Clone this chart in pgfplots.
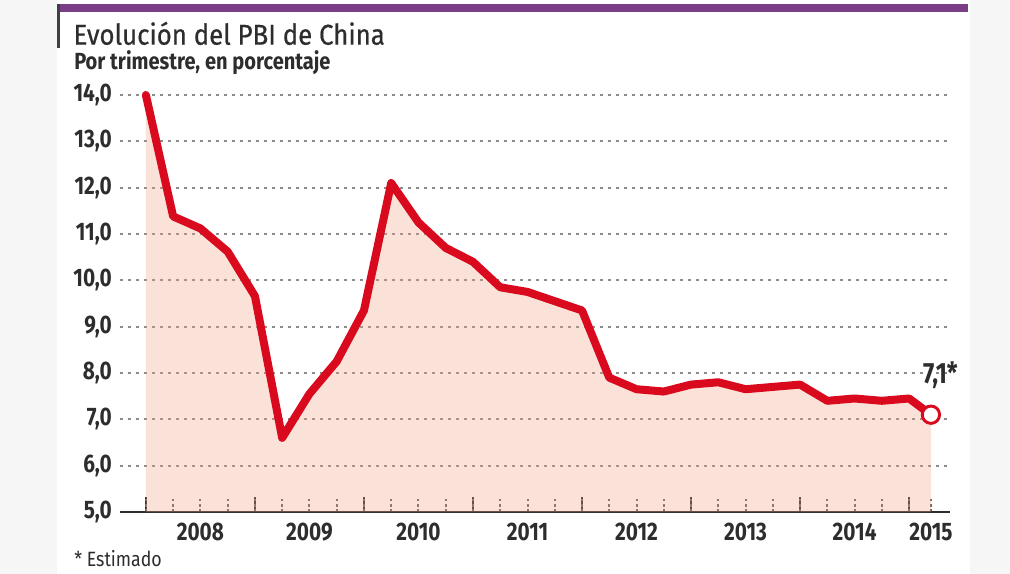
\documentclass[border=0pt]{standalone}
\usepackage{pgfplots}
\usepackage{pgfplotstable}
\pgfplotsset{compat=1.18}
\usepackage{fontspec}
\setmainfont{Fira Sans}[FakeStretch=0.82]
\newfontfamily\titlefont{Fira Sans}[FakeStretch=0.9, FakeBold=0.5]
\newfontfamily\subfont{Fira Sans}[FakeStretch=0.86]
\definecolor{pbired}{RGB}{218,10,30}
\definecolor{pbifill}{RGB}{245,160,128}
\definecolor{txt}{RGB}{45,45,45}
\definecolor{purp}{RGB}{122,62,134}
\definecolor{bgg}{RGB}{246,246,246}
\pgfplotstableread{
x y
0 14.0
1 11.38
2 11.12
3 10.62
4 9.66
5 6.6
6 7.55
7 8.25
8 9.35
9 12.1
10 11.25
11 10.7
12 10.4
13 9.85
14 9.75
15 9.55
16 9.35
17 7.9
18 7.65
19 7.6
20 7.75
21 7.8
22 7.65
23 7.7
24 7.75
25 7.4
26 7.45
27 7.4
28 7.45
28.8 7.1
}\gdp
\begin{document}
\begin{tikzpicture}
\fill[bgg] (0pt,0pt) rectangle (757.5pt,-430.5pt);
\fill[white] (42.75pt,0pt) rectangle (727.5pt,-430.5pt);
\fill[purp] (42.75pt,-3pt) rectangle (726pt,-9pt);
\draw[line width=2.2pt, black!75] (44pt,-3pt) -- (44pt,-36pt);
\node[anchor=base west, inner sep=0pt, text=txt, font=\titlefont\fontsize{21.5}{25}\selectfont] at (55pt,-33.5pt) {Evolución del PBI de China};
\node[anchor=base west, inner sep=0pt, text=txt, font=\subfont\bfseries\fontsize{17.5}{20}\selectfont] at (55.5pt,-52.5pt) {Por trimestre, en porcentaje};
\node[anchor=base west, inner sep=0pt, text=txt, font=\subfont\fontsize{15.5}{17}\selectfont] at (55.5pt,-425pt) {* Estimado};
\begin{axis}[
  at={(90pt,-384pt)}, anchor=south west,
  scale only axis, width=622.5pt, height=319.7pt,
  xmin=-0.95, xmax=29.5, ymin=5, ymax=14.2,
  clip mode=individual,
  axis lines*=left,
  axis line style={-},
  x axis line style={line width=2.2pt, txt},
  y axis line style={draw=none},
  ytick={5,6,...,14},
  yticklabel={\pgfmathprintnumber[fixed,fixed zerofill,precision=1,use comma,assume math mode=true]{\tick}},
  yticklabel style={anchor=east, inner sep=0pt, xshift=-6pt, text=txt, font=\bfseries\fontsize{19}{20}\selectfont},
  ytick style={draw=none},
  ymajorgrids,
  grid style={dash pattern=on 2pt off 4pt, line width=1.5pt, black!45},
  xtick={0,1,...,28,28.8},
  xticklabels={,,2008,,,,2009,,,,2010,,,,2011,,,,2012,,,,2013,,,,2014,,,2015},
  xticklabel style={anchor=north, inner sep=0pt, yshift=-8pt, text=txt, font=\bfseries\fontsize{19}{20}\selectfont},
  tick align=inside,
  major tick length=11pt,
  minor tick length=11pt,
  xtick style={dash pattern=on 2pt off 2pt, line width=1.5pt, black!60},
  minor xtick={0,4,...,28},
  minor x tick style={solid, line width=1.8pt, txt},
]
\addplot[draw=none, fill=pbifill, fill opacity=0.3] table[x=x,y=y]{\gdp} \closedcycle;
\addplot[pbired, line width=6pt, line join=round, line cap=round, mark=none] table[x=x,y=y]{\gdp};
\addplot[pbired, line width=2.2pt, only marks, mark=*, mark size=6.5pt, mark options={fill=white, solid}] coordinates {(28.8,7.1)};
\node[anchor=south, inner sep=0pt, text=txt, font=\bfseries\fontsize{22}{24}\selectfont] at (axis cs:29.15,7.65) {7,1*};
\end{axis}
\pgfresetboundingbox
\useasboundingbox (0pt,0pt) rectangle (757.5pt,-430.5pt);
\end{tikzpicture}
\end{document}
